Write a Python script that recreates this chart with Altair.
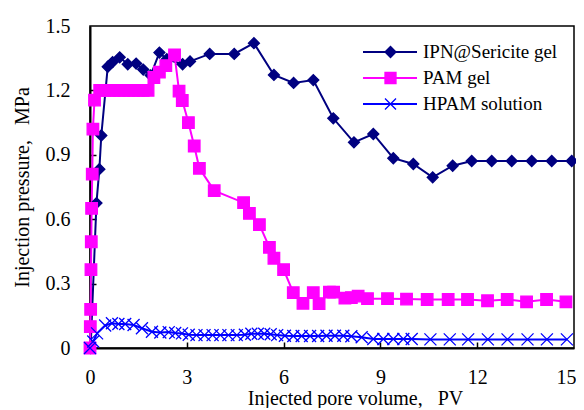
import altair as alt
import pandas as pd

SERIES = ["IPN@Sericite gel", "PAM gel", "HPAM solution"]
COLORS = ["#000080", "#FF00FF", "#0000FF"]

ipn_x = [0.02, 0.2, 0.29, 0.35, 0.55, 0.7, 0.92, 1.17, 1.43, 1.65, 1.88, 2.15, 2.38,
         2.87, 3.1, 3.71, 4.47, 5.08, 5.7, 6.31, 6.92, 7.54, 8.18, 8.78, 9.4, 10.02,
         10.62, 11.24, 11.83, 12.45, 13.07, 13.69, 14.31, 14.93]
ipn_y = [0.0, 0.675, 0.833, 0.99, 1.31, 1.332, 1.354, 1.322, 1.325, 1.297, 1.27, 1.376, 1.345,
         1.322, 1.335, 1.37, 1.37, 1.42, 1.272, 1.235, 1.248, 1.07, 0.958, 0.997, 0.884, 0.857,
         0.795, 0.849, 0.871, 0.871, 0.871, 0.871, 0.871, 0.871]

pam_x = [0.0, 0.01, 0.02, 0.03, 0.04, 0.05, 0.07, 0.09, 0.14, 0.3, 0.45, 0.6, 0.75, 0.9,
         1.05, 1.2, 1.35, 1.5, 1.65, 1.8, 1.98, 2.15, 2.35, 2.62, 2.76, 2.86, 3.05, 3.23,
         3.39, 3.85, 4.76, 4.94, 5.25, 5.56, 5.7, 6.0, 6.3, 6.6, 6.92, 7.1, 7.42, 7.55,
         7.9, 8.1, 8.31, 8.6, 9.22, 9.81, 10.45, 11.1, 11.7, 12.32, 12.93, 13.53, 14.15, 14.75]
pam_y = [0.0, 0.1, 0.18, 0.365, 0.495, 0.65, 0.81, 1.02, 1.155, 1.2, 1.2, 1.2, 1.2, 1.2,
         1.2, 1.2, 1.2, 1.2, 1.2, 1.2, 1.26, 1.285, 1.315, 1.365, 1.197, 1.153, 1.05, 0.941,
         0.837, 0.733, 0.677, 0.627, 0.575, 0.469, 0.418, 0.365, 0.258, 0.208, 0.258, 0.207, 0.26, 0.26,
         0.232, 0.235, 0.242, 0.23, 0.23, 0.228, 0.226, 0.226, 0.226, 0.22, 0.226, 0.215, 0.226, 0.215]

hpam_x = [0.0, 0.1, 0.22, 0.47, 0.68, 0.88, 1.09, 1.35, 1.61, 1.92,
          2.18, 2.44, 2.64, 2.85, 3.06, 3.3, 3.55, 3.8, 4.04, 4.29,
          4.55, 4.8, 5.0, 5.2, 5.4, 5.6, 5.8, 6.04, 6.3, 6.56,
          6.82, 7.07, 7.33, 7.59, 7.85, 8.1, 8.42, 8.78, 9.09, 9.4,
          9.71, 9.97, 10.55, 11.15, 11.72, 12.33, 12.94, 13.56, 14.16, 14.78]
hpam_y = [0.0, 0.03, 0.068, 0.105, 0.115, 0.112, 0.112, 0.107, 0.092, 0.076,
          0.072, 0.074, 0.07, 0.068, 0.062, 0.06, 0.06, 0.06, 0.06, 0.06,
          0.06, 0.062, 0.066, 0.066, 0.066, 0.064, 0.06, 0.057, 0.056, 0.056,
          0.056, 0.056, 0.057, 0.057, 0.057, 0.055, 0.05, 0.042, 0.042, 0.042,
          0.042, 0.042, 0.04, 0.04, 0.04, 0.04, 0.04, 0.04, 0.04, 0.04]

x_labels = [0, 3, 6, 9, 12, 15]
y_labels = [0, 0.3, 0.6, 0.9, 1.2, 1.5]
x_inner_ticks = [3, 6, 9, 12]
y_inner_ticks = [0.3, 0.6, 0.9, 1.2]

rows = []
for name, xs, ys in zip(SERIES, [ipn_x, pam_x, hpam_x], [ipn_y, pam_y, hpam_y]):
    for i, (a, b) in enumerate(zip(xs, ys)):
        rows.append({"series": name, "s2": name, "pv": a, "p": b, "order": i})
df = pd.DataFrame(rows)

FONT = "'Times New Roman', 'Liberation Serif', serif"
W, H = 484, 322
FS = 20

xscale = alt.Scale(domain=[0, 15], nice=False, zero=False)
yscale = alt.Scale(domain=[0, 1.5], nice=False, zero=False)

x_main = alt.X("pv:Q", scale=xscale, axis=alt.Axis(
    values=x_labels, format="d", orient="bottom", labelFlush=False,
    labelAlign={"condition": {"test": "datum.value == 15", "value": "right"}, "value": "center"},
    labelOffset={"condition": {"test": "datum.value == 15", "value": 2}, "value": 0},
    title="Injected pore volume,\u00a0\u00a0\u00a0PV",
    ticks=False, tickSize=0, labelPadding=19, grid=False,
    domain=True, domainColor="black", domainWidth=2,
    labelFont=FONT, labelFontSize=FS, labelColor="black",
    titleFont=FONT, titleFontSize=FS, titleFontWeight="normal", titleColor="black",
    titleX=265, titleY=56, titleBaseline="alphabetic", titleAlign="center"))
y_main = alt.Y("p:Q", scale=yscale, axis=alt.Axis(
    values=y_labels, orient="left", labelFlush=False,
    labelExpr="datum.value == 0 ? '0' : format(datum.value, '.1f')",
    title="Injection pressure,\u00a0\u00a0\u00a0MPa",
    ticks=False, tickSize=0, labelPadding=20, grid=False,
    domain=True, domainColor="black", domainWidth=2,
    labelFont=FONT, labelFontSize=FS, labelColor="black",
    titleFont=FONT, titleFontSize=FS, titleFontWeight="normal", titleColor="black",
    titleX=-68, titleY=H / 2, titleAngle=270, titleBaseline="middle", titleAlign="center"))

x_tick = alt.X("pv:Q", scale=xscale, axis=alt.Axis(
    values=x_inner_ticks, orient="bottom", offset=-6, ticks=True, tickSize=6,
    tickWidth=1.5, tickColor="black", labels=False, domain=False, grid=False, title=None))
y_tick = alt.Y("p:Q", scale=yscale, axis=alt.Axis(
    values=y_inner_ticks, orient="left", offset=-6, ticks=True, tickSize=6,
    tickWidth=1.5, tickColor="black", labels=False, domain=False, grid=False, title=None))

line_legend = alt.Legend(
    orient="none", legendX=272, legendY=13, title=None, symbolType="stroke",
    symbolSize=2916, symbolStrokeWidth=2, clipHeight=26, rowPadding=0, padding=0,
    labelFont=FONT, labelFontSize=19, labelColor="black", labelOffset=5)

lines = alt.Chart(df).mark_line(strokeWidth=2).encode(
    x=x_main, y=y_main,
    stroke=alt.Stroke("series:N", scale=alt.Scale(domain=SERIES, range=COLORS), legend=line_legend),
    order="order:Q",
    detail="series:N",
)

marker_legend = alt.Legend(
    orient="none", legendX=294, legendY=13, title=None, symbolSize=121,
    symbolStrokeWidth=1.3, clipHeight=26, rowPadding=0, padding=0,
    labelExpr="''", labelFontSize=1, labelOffset=0)

X_PATH = "M-1,-1L1,1M-1,1L1,-1"
points = alt.Chart(df).mark_point(filled=False, strokeWidth=1.3, opacity=1).encode(
    x=x_tick, y=y_tick,
    shape=alt.Shape("s2:N", scale=alt.Scale(domain=SERIES, range=["diamond", "square", X_PATH]),
                    legend=marker_legend),
    fill=alt.Fill("s2:N", scale=alt.Scale(domain=SERIES, range=[COLORS[0], COLORS[1], "transparent"]),
                  legend=marker_legend),
    stroke=alt.Stroke("s2:N", scale=alt.Scale(domain=SERIES, range=COLORS), legend=marker_legend),
    size=alt.Size("s2:N", scale=alt.Scale(domain=SERIES, range=[121, 144, 130]), legend=None),
    fillOpacity=alt.value(1),
)

chart = alt.layer(lines, points).resolve_scale(
    stroke="independent", shape="independent", fill="independent"
).resolve_axis(x="independent", y="independent").properties(
    width=W, height=H,
    padding={"left": 82, "top": 18, "right": 2, "bottom": 60},
    autosize=alt.AutoSizeParams(type="none"),
    background="white",
).configure_view(stroke="black", strokeWidth=1.5)

chart.save("out.html", embed_options={"renderer": "svg", "actions": False})
